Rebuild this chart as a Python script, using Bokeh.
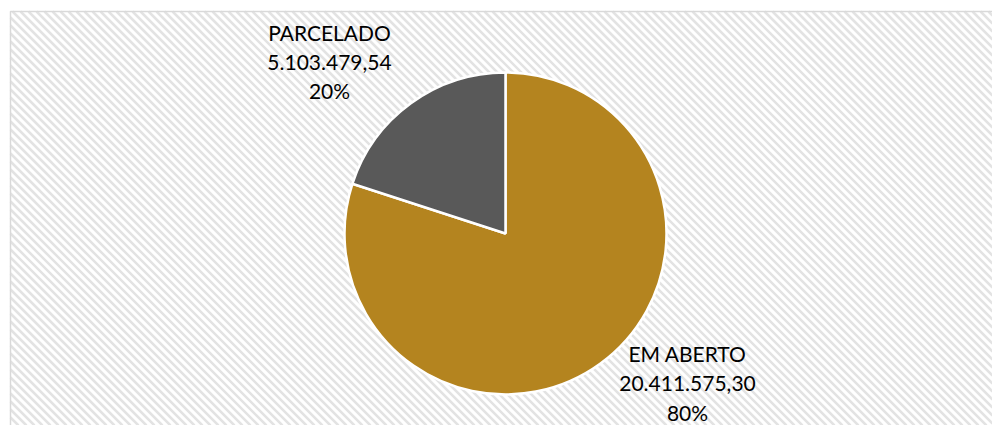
import math
from bokeh.plotting import figure
from bokeh.models import Range1d
from bokeh.core.properties import value
from bokeh.embed import file_html
from bokeh.resources import INLINE

# ---- data ----
categories = ["EM ABERTO", "PARCELADO"]
amounts = [20411575.30, 5103479.54]
colors = ["#B4841F", "#595959"]

W, H = 992, 425

def br(v):
    s = f"{v:,.2f}"
    return s.replace(",", "X").replace(".", ",").replace("X", ".")

total = sum(amounts)
fracs = [a / total for a in amounts]

p = figure(width=W, height=H, x_range=Range1d(0, W), y_range=Range1d(0, H),
           output_backend="svg", toolbar_location=None, min_border=0)
p.axis.visible = False
p.grid.visible = False
p.outline_line_color = None
p.background_fill_color = "white"
p.border_fill_color = "white"

# chart area background: 45-degree diagonal stripes ("\"), clipped to the area
left, top = 10, 11            # screen px
right, bottom = W, H
x0s, y0s, x1s, y1s = [], [], [], []
step = 8
c = left - bottom
while c < right - top:
    sy0 = max(top, left - c)
    sy1 = min(bottom, right - c)
    if sy1 > sy0:
        x0s.append(c + sy0); y0s.append(H - sy0)
        x1s.append(c + sy1); y1s.append(H - sy1)
    c += step
p.segment(x0=x0s, y0=y0s, x1=x1s, y1=y1s, line_color="#E3E3E3",
          line_width=2.5)

p.quad(left=left, right=W + 20, bottom=-20, top=H - top,
       fill_color=None, line_color="#D9D9D9", line_width=1.5)

# pie: starts at 12 o'clock, goes clockwise
cx, cy, r = 505, H - 233, 161
start = math.pi / 2
starts, ends = [], []
for f in fracs:
    end = start - f * 2 * math.pi
    starts.append(end)
    ends.append(start)
    start = end

p.wedge(x=[cx] * len(amounts), y=[cy] * len(amounts), radius=r,
        radius_units="screen",
        start_angle=starts, end_angle=ends, fill_color=colors,
        line_color="white", line_width=2.5)

# labels
label_pos = {"EM ABERTO": (687, [353, 383, 412]),
             "PARCELADO": (329, [32, 61.5, 90])}
xs, ys, texts = [], [], []
for cat, amt, f in zip(categories, amounts, fracs):
    lx, lys = label_pos[cat]
    lines = [cat, br(amt), f"{round(f * 100)}%"]
    for ly, t in zip(lys, lines):
        xs.append(lx)
        ys.append(H - ly)
        texts.append(t)

p.text(x=xs, y=ys, text=texts, text_align="center", text_baseline="middle",
       text_font=value("Lato"), text_font_size="21px", text_color="#000000")

open("out.html", "w").write(file_html(p, INLINE))
